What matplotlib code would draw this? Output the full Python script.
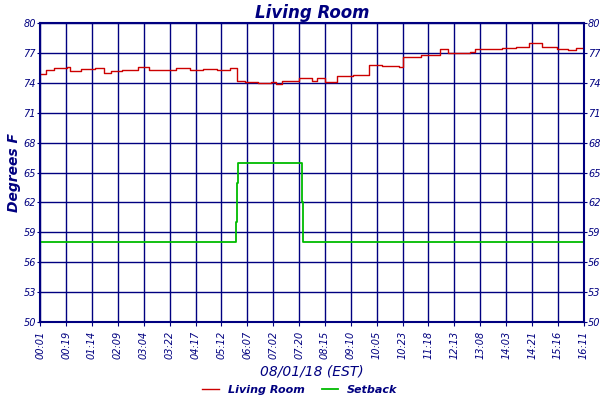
import matplotlib
matplotlib.use("Agg")
import matplotlib.pyplot as plt

NAVY = "#000080"

tick_labels = ["00:01", "00:19", "01:14", "02:09", "03:04", "03:22", "04:17",
               "05:12", "06:07", "07:02", "07:20", "08:15", "09:10", "10:05",
               "10:23", "11:18", "12:13", "13:08", "14:03", "14:21", "15:16", "16:11"]

# x in tick-index units
room_x = [0, 0.21, 0.53, 1.05, 1.16, 1.58, 2.1, 2.47, 2.73, 3.15, 3.78, 4.2,
          5.25, 5.78, 6.3, 6.83, 7.35, 7.6, 7.9, 8.4, 8.9, 9.1, 9.35, 9.98,
          10.5, 10.7, 11.0, 11.45, 12.1, 12.7, 13.2, 13.86, 14.0, 14.7, 15.2,
          15.45, 15.75, 16.6, 16.8, 17.85, 18.4, 18.9, 19.4, 19.95, 20.4, 20.7, 21.0]
room_y = [74.9, 75.3, 75.5, 75.6, 75.2, 75.4, 75.5, 75.0, 75.2, 75.3, 75.6,
          75.3, 75.5, 75.3, 75.4, 75.3, 75.5, 74.2, 74.1, 74.0, 74.1, 73.9,
          74.2, 74.5, 74.2, 74.5, 74.1, 74.7, 74.8, 75.8, 75.7, 75.6, 76.6,
          76.8, 76.8, 77.4, 77.0, 77.1, 77.4, 77.5, 77.6, 78.0, 77.6, 77.4,
          77.3, 77.5, 77.4]

setback_x = [0, 7.55, 7.57, 7.6, 7.63, 10.1, 10.12, 10.15, 21.0]
setback_y = [58.0, 58.0, 60.0, 64.0, 66.0, 66.0, 62.0, 58.0, 58.0]

yticks = [50, 53, 56, 59, 62, 65, 68, 71, 74, 77, 80]

fig, ax = plt.subplots(figsize=(6, 4), dpi=100)
fig.subplots_adjust(left=0.067, right=0.973, top=0.942, bottom=0.195)

ax.step(room_x, room_y, where="post", color="#cc0000", lw=1, label="Living Room")
ax.step(setback_x, setback_y, where="post", color="#00bb00", lw=1.3, label="Setback")

ax.set_xlim(0, 21)
ax.set_ylim(50, 80)
ax.set_xticks(range(len(tick_labels)))
ax.set_xticklabels(tick_labels, rotation=90, fontsize=7, color=NAVY, style="italic")
ax.set_yticks(yticks)
ax.tick_params(axis="y", labelsize=7, colors=NAVY, labelright=True, right=True,
               length=2, pad=1)
ax.tick_params(axis="x", colors=NAVY, length=3)
for t in ax.get_yticklabels():
    t.set_style("italic")
ax.grid(True, color=NAVY, lw=1)
for s in ax.spines.values():
    s.set_color(NAVY)
    s.set_linewidth(1.5)

ax.set_title("Living Room", color=NAVY, fontsize=12, style="italic", fontweight="bold", pad=4)
ax.set_ylabel("Degrees F", color=NAVY, fontsize=10, style="italic", fontweight="bold", labelpad=2)
ax.set_xlabel("08/01/18 (EST)", color=NAVY, fontsize=10, style="italic", labelpad=4)

leg = fig.legend(*ax.get_legend_handles_labels(), loc="center", bbox_to_anchor=(0.5, 0.025),
                 ncol=2, frameon=False, fontsize=8, handlelength=1.5, columnspacing=1.5)
for t in leg.get_texts():
    t.set_color(NAVY)
    t.set_style("italic")
    t.set_fontweight("bold")

fig.savefig("out.png")
